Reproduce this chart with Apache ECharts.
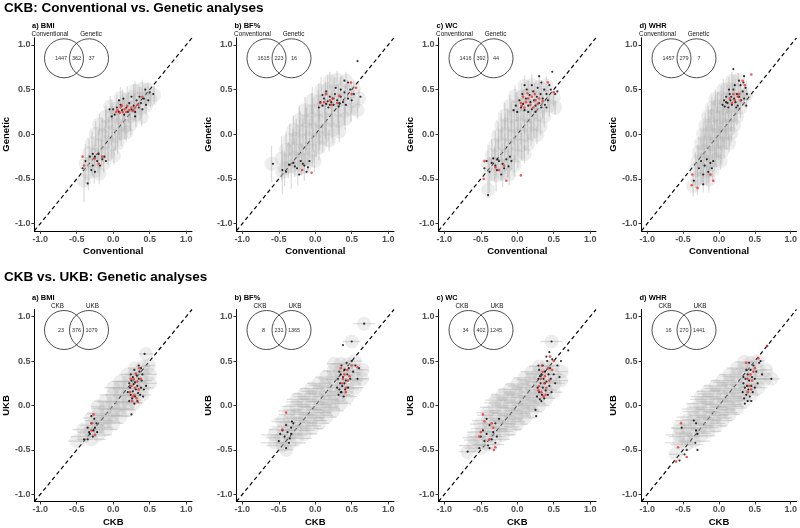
<!DOCTYPE html>
<html><head><meta charset="utf-8">
<script src="https://cdn.jsdelivr.net/npm/echarts@6/dist/echarts.min.js"></script>
<style>html,body{margin:0;padding:0;background:#fff}#c{width:800px;height:528px}</style>
</head><body><div id="c"></div>
<script>
const rowTitles = ['CKB: Conventional vs. Genetic analyses', 'CKB vs. UKB: Genetic analyses'];
const panelLabels = ['a) BMI', 'b) BF%', 'c) WC', 'd) WHR'];
const axisNames = [['Conventional', 'Genetic'], ['CKB', 'UKB']];
const vennSets = [['Conventional', 'Genetic'], ['CKB', 'UKB']];
const vennCounts = [[1447, 362, 37], [1615, 223, 16], [1416, 392, 44], [1457, 279, 7],
                    [23, 376, 1079], [8, 231, 1365], [34, 402, 1245], [16, 270, 1441]];
const tickValues = [-1, -0.5, 0, 0.5, 1];

// grey cloud: x, y, CI half-width (vertical in row 1, horizontal in row 2)
const grey1a = [-0.34,-0.43,0.2, -0.26,-0.41,0.14, -0.19,-0.44,0.12,
 -0.38,-0.33,0.22, -0.29,-0.31,0.15, -0.21,-0.3,0.13, -0.13,-0.33,0.1,
 -0.33,-0.21,0.16, -0.25,-0.23,0.12, -0.16,-0.2,0.14, -0.07,-0.22,0.12, 0.01,-0.24,0.1,
 -0.29,-0.1,0.13, -0.2,-0.12,0.16, -0.11,-0.09,0.18, -0.02,-0.11,0.15, 0.06,-0.1,0.12,
 -0.24,0.01,0.14, -0.15,-0.01,0.2, -0.06,0.02,0.17, 0.03,-0.02,0.16, 0.11,0.01,0.14, 0.18,0.02,0.1,
 -0.19,0.11,0.12, -0.1,0.09,0.18, -0.01,0.12,0.2, 0.08,0.1,0.16, 0.16,0.09,0.15, 0.24,0.11,0.12,
 -0.1,0.2,0.12, -0.02,0.22,0.17, 0.07,0.19,0.2, 0.15,0.21,0.18, 0.23,0.2,0.16, 0.31,0.22,0.14, 0.39,0.19,0.1,
 -0.04,0.31,0.12, 0.05,0.29,0.15, 0.13,0.32,0.18, 0.21,0.3,0.17, 0.29,0.31,0.15, 0.37,0.29,0.14, 0.45,0.32,0.1,
 0.1,0.41,0.12, 0.19,0.39,0.15, 0.28,0.42,0.14, 0.36,0.4,0.13, 0.44,0.41,0.12, 0.51,0.39,0.08,
 0.3,0.49,0.1, 0.4,0.51,0.1, 0.48,0.5,0.08, 0.56,0.44,0.1, -0.4,-0.52,0.24];
const black1a = [0.0,0.28, 0.02,0.22, 0.05,0.3, 0.08,0.25, 0.1,0.33, 0.12,0.27, 0.15,0.22, 0.18,0.3, 0.2,0.25,
 0.22,0.35, 0.25,0.28, 0.28,0.32, 0.3,0.25, 0.32,0.38, 0.35,0.3, 0.38,0.35, 0.4,0.28, 0.42,0.4, 0.45,0.33,
 0.48,0.38, 0.5,0.47, 0.55,0.45, -0.05,0.28, -0.02,0.2, 0.14,0.4, 0.25,0.42, 0.08,0.38, 0.3,0.2, 0.36,0.42, 0.44,0.5,
 -0.38,-0.3, -0.32,-0.25, -0.28,-0.35, -0.25,-0.25, -0.22,-0.3, -0.2,-0.22, -0.15,-0.28, -0.12,-0.25, -0.18,-0.35,
 -0.3,-0.4, -0.25,-0.42, -0.35,-0.55, -0.1,-0.3, -0.42,-0.38, -0.28,-0.22];
const red1a = [0.06,0.27, 0.1,0.3, 0.13,0.25, 0.16,0.28, 0.19,0.32, 0.22,0.27, 0.09,0.24, 0.25,0.3, 0.28,0.26,
 0.12,0.32, 0.18,0.25, 0.3,0.3, 0.4,0.42, 0.34,0.33, 0.04,0.25,
 -0.42,-0.25, -0.4,-0.35, -0.2,-0.33, -0.25,-0.27, -0.15,-0.25];

const grey1b = [-0.42,-0.38,0.2, -0.33,-0.36,0.25, -0.24,-0.39,0.18, -0.15,-0.37,0.15,
 -0.46,-0.27,0.25, -0.37,-0.29,0.2, -0.28,-0.26,0.22, -0.19,-0.28,0.18, -0.1,-0.27,0.15, -0.01,-0.3,0.12,
 -0.4,-0.17,0.2, -0.31,-0.16,0.22, -0.22,-0.18,0.24, -0.13,-0.16,0.2, -0.04,-0.18,0.18, 0.05,-0.15,0.14,
 -0.35,-0.06,0.18, -0.26,-0.05,0.22, -0.17,-0.07,0.25, -0.08,-0.05,0.22, 0.01,-0.06,0.2, 0.1,-0.04,0.16, 0.19,-0.07,0.12,
 -0.3,0.05,0.16, -0.21,0.04,0.22, -0.12,0.06,0.24, -0.03,0.05,0.25, 0.06,0.04,0.22, 0.15,0.06,0.2, 0.24,0.05,0.15, 0.33,0.03,0.12,
 -0.22,0.16,0.16, -0.13,0.15,0.2, -0.04,0.17,0.24, 0.05,0.15,0.22, 0.14,0.17,0.22, 0.23,0.16,0.2, 0.32,0.15,0.16, 0.41,0.17,0.12,
 -0.14,0.27,0.15, -0.05,0.26,0.2, 0.04,0.28,0.22, 0.13,0.26,0.22, 0.22,0.28,0.2, 0.31,0.27,0.18, 0.4,0.26,0.16, 0.49,0.28,0.14, 0.58,0.27,0.1,
 -0.04,0.38,0.15, 0.05,0.37,0.2, 0.14,0.39,0.2, 0.23,0.37,0.18, 0.32,0.38,0.18, 0.41,0.39,0.15, 0.5,0.37,0.14, 0.6,0.4,0.1,
 0.08,0.49,0.15, 0.17,0.5,0.16, 0.26,0.48,0.15, 0.35,0.5,0.14, 0.44,0.49,0.12, 0.53,0.51,0.1,
 0.2,0.6,0.1, 0.3,0.61,0.1, 0.42,0.6,0.1, -0.6,-0.33,0.2, -0.45,-0.42,0.25];
const black1b = [0.07,0.36, 0.1,0.32, 0.12,0.4, 0.15,0.34, 0.18,0.3, 0.2,0.42, 0.22,0.36, 0.25,0.33, 0.27,0.45,
 0.3,0.38, 0.32,0.31, 0.35,0.42, 0.38,0.36, 0.4,0.47, 0.42,0.33, 0.45,0.4, 0.48,0.5, 0.5,0.38, 0.53,0.45,
 0.58,0.82, 0.4,0.6, 0.45,0.58, 0.15,0.48, 0.28,0.52, 0.35,0.5, 0.1,0.44, 0.2,0.33, 0.05,0.3, 0.62,0.42,
 0.24,0.4, 0.33,0.35, 0.17,0.37,
 -0.58,-0.33, -0.45,-0.4, -0.4,-0.42, -0.36,-0.34, -0.3,-0.32, -0.25,-0.38, -0.2,-0.3, -0.15,-0.35,
 -0.12,-0.42, -0.08,-0.3, -0.1,-0.37, -0.22,-0.45, -0.28,-0.36, -0.17,-0.33];
const red1b = [0.15,0.45, 0.2,0.38, 0.25,0.4, 0.07,0.35, 0.3,0.35, 0.33,0.43, 0.49,0.58, 0.56,0.52, 0.5,0.45,
 0.12,0.36, 0.22,0.33, -0.18,-0.4, -0.05,-0.43];

const grey1c = [-0.38,-0.45,0.2, -0.29,-0.46,0.18, -0.2,-0.44,0.15, -0.11,-0.45,0.12,
 -0.4,-0.34,0.22, -0.31,-0.33,0.2, -0.22,-0.35,0.18, -0.13,-0.33,0.16, -0.04,-0.35,0.12,
 -0.35,-0.23,0.18, -0.26,-0.22,0.2, -0.17,-0.24,0.2, -0.08,-0.22,0.17, 0.01,-0.24,0.14, 0.1,-0.22,0.1,
 -0.3,-0.12,0.16, -0.21,-0.11,0.2, -0.12,-0.13,0.22, -0.03,-0.11,0.2, 0.06,-0.12,0.16, 0.15,-0.11,0.12,
 -0.26,-0.01,0.15, -0.17,0.0,0.2, -0.08,-0.02,0.22, 0.01,0.0,0.2, 0.1,-0.01,0.18, 0.19,0.01,0.14, 0.27,-0.01,0.1,
 -0.22,0.1,0.14, -0.13,0.11,0.18, -0.04,0.09,0.2, 0.05,0.11,0.22, 0.14,0.1,0.18, 0.23,0.11,0.15, 0.32,0.09,0.1,
 -0.17,0.21,0.14, -0.08,0.2,0.17, 0.01,0.22,0.2, 0.1,0.21,0.2, 0.19,0.2,0.18, 0.28,0.22,0.15, 0.37,0.2,0.12,
 -0.1,0.32,0.12, -0.01,0.31,0.16, 0.08,0.33,0.18, 0.17,0.31,0.18, 0.26,0.33,0.16, 0.35,0.31,0.14, 0.44,0.32,0.12,
 -0.03,0.43,0.12, 0.06,0.42,0.15, 0.15,0.44,0.16, 0.24,0.42,0.15, 0.33,0.44,0.14, 0.42,0.43,0.12, 0.5,0.41,0.1,
 0.1,0.54,0.12, 0.2,0.55,0.12, 0.3,0.53,0.12, 0.4,0.55,0.1, -0.4,-0.62,0.1, 0.52,0.3,0.08];
const black1c = [-0.05,0.27, -0.02,0.32, 0.0,0.25, 0.03,0.38, 0.05,0.3, 0.07,0.45, 0.08,0.34, 0.1,0.27, 0.12,0.4,
 0.13,0.5, 0.15,0.32, 0.17,0.44, 0.18,0.36, 0.2,0.28, 0.22,0.48, 0.23,0.38, 0.25,0.32, 0.27,0.42, 0.28,0.52,
 0.3,0.35, 0.32,0.45, 0.33,0.3, 0.35,0.4, 0.37,0.5, 0.38,0.33, 0.4,0.45, 0.42,0.38, 0.44,0.55, 0.46,0.5,
 0.48,0.7, 0.3,0.65, 0.33,0.58, 0.2,0.55, 0.1,0.55, 0.15,0.25, 0.25,0.25, 0.4,0.3, 0.52,0.45, 0.55,0.48,
 -0.45,-0.38, -0.42,-0.3, -0.38,-0.42, -0.33,-0.27, -0.3,-0.35, -0.28,-0.4, -0.25,-0.3, -0.22,-0.45, -0.2,-0.33,
 -0.18,-0.38, -0.15,-0.28, -0.12,-0.36, -0.1,-0.25, -0.08,-0.3, -0.4,-0.68, -0.35,-0.32, -0.27,-0.28];
const red1c = [0.05,0.35, 0.08,0.42, 0.1,0.3, 0.12,0.36, 0.15,0.4, 0.18,0.33, 0.2,0.42, 0.22,0.3, 0.25,0.38,
 0.28,0.34, 0.3,0.4, 0.14,0.46, 0.35,0.37, 0.42,0.58, 0.5,0.47, 0.06,0.32, 0.24,0.45,
 -0.45,-0.3, -0.46,-0.5, -0.3,-0.37, -0.25,-0.4, -0.18,-0.35, -0.15,-0.52, 0.05,-0.46];

const grey1d = [-0.3,-0.5,0.18, -0.22,-0.49,0.16, -0.14,-0.51,0.14,
 -0.33,-0.4,0.2, -0.25,-0.39,0.18, -0.17,-0.41,0.16, -0.09,-0.4,0.12,
 -0.3,-0.3,0.18, -0.22,-0.29,0.2, -0.14,-0.31,0.18, -0.06,-0.29,0.14, 0.02,-0.3,0.1,
 -0.28,-0.2,0.16, -0.2,-0.19,0.2, -0.12,-0.21,0.2, -0.04,-0.19,0.18, 0.04,-0.2,0.14,
 -0.25,-0.1,0.15, -0.17,-0.09,0.2, -0.09,-0.11,0.22, -0.01,-0.09,0.2, 0.07,-0.1,0.15, 0.14,-0.1,0.1,
 -0.22,0.0,0.14, -0.14,0.01,0.2, -0.06,-0.01,0.22, 0.02,0.01,0.2, 0.1,0.0,0.16, 0.17,0.01,0.1,
 -0.19,0.1,0.14, -0.11,0.11,0.18, -0.03,0.09,0.22, 0.05,0.11,0.2, 0.13,0.1,0.16, 0.21,0.1,0.1,
 -0.15,0.2,0.12, -0.07,0.21,0.18, 0.01,0.19,0.2, 0.09,0.21,0.2, 0.17,0.2,0.16, 0.25,0.2,0.1,
 -0.1,0.3,0.12, -0.02,0.31,0.16, 0.06,0.29,0.18, 0.14,0.31,0.18, 0.22,0.3,0.15, 0.3,0.3,0.12,
 -0.05,0.4,0.1, 0.03,0.41,0.14, 0.11,0.39,0.16, 0.19,0.41,0.15, 0.27,0.4,0.13, 0.35,0.41,0.1,
 0.06,0.5,0.12, 0.14,0.51,0.13, 0.22,0.5,0.12, 0.3,0.49,0.1, 0.18,0.6,0.1, 0.27,0.61,0.08,
 0.38,0.45,0.15, -0.36,-0.58,0.12];
const black1d = [0.05,0.33, 0.07,0.38, 0.08,0.31, 0.1,0.42, 0.12,0.35, 0.13,0.3, 0.15,0.45, 0.16,0.38, 0.18,0.33,
 0.2,0.5, 0.21,0.4, 0.23,0.36, 0.25,0.45, 0.26,0.32, 0.28,0.42, 0.3,0.55, 0.31,0.38, 0.33,0.48, 0.35,0.4,
 0.37,0.52, 0.38,0.32, 0.2,0.73, 0.35,0.65, 0.28,0.6, 0.34,0.58, 0.1,0.36, 0.17,0.42, 0.24,0.3, 0.14,0.5,
 0.22,0.55, 0.39,0.45,
 -0.25,-0.3, -0.2,-0.35, -0.17,-0.28, -0.12,-0.32, -0.1,-0.38, -0.15,-0.42, -0.22,-0.45, -0.28,-0.38,
 -0.08,-0.3, -0.35,-0.52, -0.22,-0.56];
const red1d = [0.45,0.67, 0.33,0.6, 0.36,0.55, 0.2,0.45, 0.26,0.42, 0.3,0.38, 0.15,0.4, 0.22,0.38, 0.28,0.45, 0.18,0.35,
 -0.37,-0.45, -0.38,-0.57, -0.3,-0.6, -0.12,-0.45, -0.08,-0.52];

const grey2a = [-0.4,-0.35,0.18, -0.41,-0.27,0.15,
 -0.3,-0.38,0.2, -0.31,-0.3,0.18, -0.29,-0.22,0.16, -0.3,-0.14,0.12,
 -0.2,-0.33,0.18, -0.21,-0.25,0.2, -0.19,-0.17,0.2, -0.2,-0.09,0.16, -0.21,-0.01,0.1,
 -0.1,-0.27,0.16, -0.11,-0.19,0.2, -0.09,-0.11,0.22, -0.1,-0.03,0.2, -0.11,0.05,0.15,
 0.0,-0.2,0.14, -0.01,-0.12,0.2, 0.01,-0.04,0.22, 0.0,0.04,0.22, -0.01,0.12,0.18, 0.0,0.2,0.12,
 0.1,-0.12,0.14, 0.09,-0.04,0.2, 0.11,0.04,0.22, 0.1,0.12,0.2, 0.09,0.2,0.16, 0.1,0.27,0.12,
 0.2,-0.05,0.12, 0.21,0.03,0.18, 0.19,0.11,0.2, 0.2,0.19,0.2, 0.21,0.27,0.16, 0.2,0.35,0.12,
 0.3,0.03,0.12, 0.29,0.11,0.16, 0.31,0.19,0.18, 0.3,0.27,0.16, 0.29,0.35,0.14, 0.3,0.42,0.1,
 0.4,0.12,0.12, 0.41,0.2,0.14, 0.39,0.28,0.14, 0.4,0.36,0.12, 0.41,0.44,0.1,
 0.5,0.25,0.1, 0.5,0.35,0.1, 0.49,0.45,0.08, 0.45,0.58,0.1, -0.5,-0.4,0.12];
const black2a = [0.22,0.05, 0.24,0.12, 0.23,0.2, 0.25,0.28, 0.24,0.35, 0.26,0.08, 0.27,0.16, 0.28,0.24, 0.27,0.32,
 0.29,0.4, 0.3,0.1, 0.31,0.18, 0.3,0.26, 0.32,0.34, 0.33,0.05, 0.34,0.14, 0.33,0.22, 0.35,0.3, 0.36,0.38,
 0.37,0.12, 0.38,0.2, 0.39,0.28, 0.4,0.35, 0.41,0.1, 0.42,0.18, 0.25,-0.1, 0.43,0.58, 0.45,0.22, 0.2,0.15,
 0.22,0.25, 0.38,0.42, 0.29,0.02, 0.35,0.45,
 -0.35,-0.25, -0.33,-0.3, -0.3,-0.12, -0.3,-0.2, -0.28,-0.35, -0.26,-0.15, -0.25,-0.25, -0.23,-0.2,
 -0.22,-0.3, -0.4,-0.38, -0.35,-0.38, -0.27,-0.28, -0.32,-0.32];
const red2a = [0.23,0.15, 0.25,0.22, 0.26,0.05, 0.28,0.3, 0.29,0.12, 0.3,0.2, 0.31,0.36, 0.32,0.08, 0.33,0.27,
 0.35,0.18, 0.36,0.42, 0.24,0.3, 0.27,0.1, 0.34,0.04, 0.38,0.3,
 -0.3,-0.28, -0.27,-0.1, -0.25,-0.33, -0.29,-0.2];

const grey2b = [-0.55,-0.42,0.2, -0.56,-0.33,0.18,
 -0.45,-0.45,0.22, -0.46,-0.36,0.22, -0.44,-0.27,0.2, -0.45,-0.18,0.15,
 -0.35,-0.42,0.22, -0.36,-0.33,0.25, -0.34,-0.24,0.25, -0.35,-0.15,0.22, -0.36,-0.06,0.15,
 -0.25,-0.37,0.2, -0.26,-0.28,0.25, -0.24,-0.19,0.26, -0.25,-0.1,0.25, -0.26,-0.01,0.2, -0.25,0.07,0.14,
 -0.15,-0.32,0.18, -0.16,-0.23,0.24, -0.14,-0.14,0.26, -0.15,-0.05,0.26, -0.16,0.04,0.24, -0.15,0.13,0.16,
 -0.05,-0.26,0.16, -0.06,-0.17,0.22, -0.04,-0.08,0.26, -0.05,0.01,0.26, -0.06,0.1,0.24, -0.05,0.19,0.16,
 0.05,-0.2,0.14, 0.04,-0.11,0.2, 0.06,-0.02,0.25, 0.05,0.07,0.26, 0.04,0.16,0.24, 0.05,0.25,0.16,
 0.15,-0.13,0.14, 0.14,-0.04,0.2, 0.16,0.05,0.24, 0.15,0.14,0.25, 0.14,0.23,0.22, 0.15,0.32,0.15,
 0.25,-0.06,0.14, 0.24,0.03,0.2, 0.26,0.12,0.22, 0.25,0.21,0.22, 0.24,0.3,0.2, 0.25,0.39,0.15, 0.26,0.47,0.1,
 0.35,0.02,0.14, 0.34,0.11,0.18, 0.36,0.2,0.2, 0.35,0.29,0.2, 0.34,0.38,0.18, 0.35,0.47,0.14,
 0.45,0.1,0.12, 0.44,0.19,0.16, 0.46,0.28,0.18, 0.45,0.37,0.16, 0.44,0.46,0.14,
 0.55,0.2,0.12, 0.56,0.3,0.14, 0.55,0.4,0.12, 0.54,0.5,0.1, 0.64,0.3,0.1, 0.65,0.4,0.08,
 0.67,0.92,0.15, 0.5,0.72,0.12, -0.4,-0.5,0.1];
const black2b = [0.3,0.2, 0.31,0.3, 0.32,0.12, 0.33,0.38, 0.34,0.25, 0.35,0.15, 0.36,0.45, 0.37,0.22, 0.38,0.32,
 0.39,0.1, 0.4,0.4, 0.41,0.18, 0.42,0.28, 0.43,0.48, 0.44,0.35, 0.45,0.2, 0.46,0.42, 0.48,0.3, 0.5,0.5,
 0.52,0.38, 0.55,0.45, 0.58,0.3, 0.6,0.42, 0.67,0.92, 0.5,0.72, 0.38,0.68, 0.36,0.15, 0.33,0.18, 0.4,0.25, 0.35,0.35,
 -0.5,-0.4, -0.48,-0.32, -0.45,-0.28, -0.42,-0.35, -0.4,-0.22, -0.38,-0.3, -0.35,-0.37, -0.33,-0.25,
 -0.32,-0.18, -0.3,-0.2, -0.36,-0.42, -0.4,-0.48, -0.33,-0.32];
const red2b = [0.35,0.42, 0.38,0.3, 0.4,0.35, 0.42,0.2, 0.44,0.4, 0.45,0.28, 0.37,0.25, 0.5,0.45, 0.58,0.43,
 0.42,0.15, 0.47,0.33, -0.4,-0.08, -0.45,-0.27];

const grey2c = [-0.6,-0.45,0.2, -0.6,-0.36,0.15,
 -0.5,-0.48,0.22, -0.51,-0.39,0.22, -0.49,-0.3,0.2, -0.5,-0.21,0.15,
 -0.4,-0.44,0.22, -0.41,-0.35,0.25, -0.39,-0.26,0.25, -0.4,-0.17,0.22, -0.41,-0.08,0.15,
 -0.3,-0.38,0.2, -0.31,-0.29,0.25, -0.29,-0.2,0.26, -0.3,-0.11,0.25, -0.31,-0.02,0.2, -0.3,0.06,0.14,
 -0.2,-0.33,0.18, -0.21,-0.24,0.24, -0.19,-0.15,0.26, -0.2,-0.06,0.26, -0.21,0.03,0.24, -0.2,0.12,0.16,
 -0.1,-0.27,0.16, -0.11,-0.18,0.22, -0.09,-0.09,0.26, -0.1,0.0,0.26, -0.11,0.09,0.24, -0.1,0.18,0.16,
 0.0,-0.21,0.14, -0.01,-0.12,0.2, 0.01,-0.03,0.25, 0.0,0.06,0.26, -0.01,0.15,0.24, 0.0,0.24,0.16,
 0.1,-0.14,0.14, 0.09,-0.05,0.2, 0.11,0.04,0.24, 0.1,0.13,0.25, 0.09,0.22,0.22, 0.1,0.31,0.15,
 0.2,-0.07,0.14, 0.19,0.02,0.2, 0.21,0.11,0.22, 0.2,0.2,0.22, 0.19,0.29,0.2, 0.2,0.38,0.15,
 0.3,0.0,0.14, 0.29,0.09,0.18, 0.31,0.18,0.2, 0.3,0.27,0.2, 0.29,0.36,0.18, 0.3,0.44,0.14,
 0.4,0.08,0.12, 0.39,0.17,0.16, 0.41,0.26,0.18, 0.4,0.35,0.16, 0.39,0.44,0.14,
 0.5,0.15,0.12, 0.51,0.25,0.14, 0.5,0.35,0.12, 0.49,0.45,0.1, 0.6,0.28,0.1, 0.61,0.38,0.08,
 0.47,0.72,0.15, -0.68,-0.52,0.12];
const black2c = [0.27,0.1, 0.28,0.2, 0.29,0.3, 0.3,0.15, 0.3,0.4, 0.31,0.07, 0.32,0.25, 0.33,0.35, 0.34,0.12,
 0.35,0.45, 0.35,0.2, 0.36,0.3, 0.37,0.08, 0.38,0.38, 0.39,0.17, 0.4,0.27, 0.41,0.5, 0.42,0.12, 0.43,0.35,
 0.44,0.22, 0.45,0.42, 0.46,0.3, 0.47,0.15, 0.48,0.52, 0.5,0.35, 0.52,0.25, 0.55,0.45, 0.58,0.32, 0.6,0.5,
 0.47,0.72, 0.7,0.62, 0.25,-0.05, 0.26,-0.12, 0.29,0.45, 0.33,0.05, 0.4,0.55, 0.44,0.6, 0.38,0.25, 0.31,0.33,
 -0.5,-0.35, -0.47,-0.28, -0.45,-0.4, -0.42,-0.32, -0.4,-0.45, -0.38,-0.22, -0.35,-0.38, -0.33,-0.3,
 -0.3,-0.42, -0.28,-0.35, -0.25,-0.15, -0.3,-0.2, -0.52,-0.48, -0.38,-0.48, -0.68,-0.52, -0.42,-0.15];
const red2c = [0.3,0.22, 0.32,0.3, 0.33,0.15, 0.35,0.38, 0.36,0.1, 0.37,0.25, 0.38,0.33, 0.4,0.2, 0.42,0.42,
 0.44,0.28, 0.45,0.55, 0.48,0.4, 0.5,0.5, 0.34,0.45, 0.39,0.12, 0.29,0.17,
 -0.47,-0.1, -0.45,-0.18, -0.5,-0.3, -0.52,-0.35, -0.35,-0.2, -0.33,-0.25, -0.3,-0.47, -0.32,-0.5, -0.38,-0.38];

const grey2d = [-0.55,-0.42,0.2, -0.56,-0.33,0.18, -0.55,-0.25,0.12,
 -0.45,-0.44,0.22, -0.46,-0.35,0.24, -0.44,-0.26,0.22, -0.45,-0.17,0.16,
 -0.35,-0.4,0.22, -0.36,-0.31,0.25, -0.34,-0.22,0.26, -0.35,-0.13,0.24, -0.36,-0.04,0.16,
 -0.25,-0.34,0.2, -0.26,-0.25,0.26, -0.24,-0.16,0.27, -0.25,-0.07,0.26, -0.26,0.02,0.2, -0.25,0.1,0.14,
 -0.15,-0.29,0.18, -0.16,-0.2,0.25, -0.14,-0.11,0.27, -0.15,-0.02,0.27, -0.16,0.07,0.24, -0.15,0.16,0.16,
 -0.05,-0.23,0.16, -0.06,-0.14,0.24, -0.04,-0.05,0.27, -0.05,0.04,0.27, -0.06,0.13,0.24, -0.05,0.22,0.16,
 0.05,-0.17,0.14, 0.04,-0.08,0.22, 0.06,0.01,0.26, 0.05,0.1,0.27, 0.04,0.19,0.24, 0.05,0.28,0.16,
 0.15,-0.1,0.14, 0.14,-0.01,0.2, 0.16,0.08,0.24, 0.15,0.17,0.26, 0.14,0.26,0.22, 0.15,0.35,0.15,
 0.25,-0.03,0.14, 0.24,0.06,0.2, 0.26,0.15,0.22, 0.25,0.24,0.22, 0.24,0.33,0.2, 0.25,0.42,0.14,
 0.35,0.05,0.12, 0.34,0.14,0.18, 0.36,0.23,0.2, 0.35,0.32,0.2, 0.34,0.41,0.16, 0.35,0.49,0.12,
 0.45,0.12,0.12, 0.44,0.21,0.16, 0.46,0.3,0.18, 0.45,0.39,0.16, 0.44,0.48,0.12,
 0.55,0.2,0.12, 0.56,0.3,0.14, 0.55,0.4,0.12, 0.54,0.5,0.1, 0.65,0.3,0.1, 0.66,0.4,0.08,
 0.73,0.3,0.12, -0.6,-0.55,0.1];
const black2d = [0.33,0.15, 0.34,0.25, 0.35,0.08, 0.36,0.2, 0.37,0.3, 0.38,0.12, 0.39,0.22, 0.4,0.05, 0.4,0.35,
 0.41,0.18, 0.42,0.28, 0.43,0.1, 0.44,0.4, 0.45,0.22, 0.46,0.32, 0.47,0.15, 0.48,0.45, 0.5,0.3, 0.52,0.38,
 0.54,0.25, 0.56,0.48, 0.58,0.5, 0.6,0.35, 0.67,0.67, 0.73,0.3, 0.36,0.02, 0.38,0.4, 0.42,0.48, 0.34,0.32,
 0.45,0.05, 0.5,0.2,
 -0.52,-0.25, -0.35,-0.17, -0.32,-0.28, -0.3,-0.32, -0.33,-0.42, -0.3,-0.5, -0.45,-0.5, -0.48,-0.55,
 -0.55,-0.62, -0.32,-0.2];
const red2d = [0.38,0.48, 0.4,0.3, 0.42,0.22, 0.44,0.35, 0.46,0.28, 0.45,0.18, 0.5,0.42, 0.55,0.53, 0.67,0.67,
 0.4,0.15, 0.48,0.38, -0.53,-0.2, -0.57,-0.47, -0.6,-0.63, -0.45,-0.58];

const greyAll = [grey1a, grey1b, grey1c, grey1d, grey2a, grey2b, grey2c, grey2d];
const blackAll = [black1a, black1b, black1c, black1d, black2a, black2b, black2c, black2d];
const redAll = [red1a, red1b, red1c, red1d, red2a, red2b, red2c, red2d];

function group(arr, n) { const out = []; for (let i = 0; i + n <= arr.length; i += n) out.push(arr.slice(i, i + n)); return out; }

const LIM = 1.08;
const FONT = 'Liberation Sans, Arial, sans-serif';
const lefts = [34, 236.5, 438.5, 641.5];
const widths = [158, 157.5, 157.5, 157];
const tops = [37.8, 309.5];
const H = 193;

const grids = [], xAxes = [], yAxes = [], series = [], titles = [], graphics = [];
titles.push({ text: rowTitles[0], left: 4, top: 1.5, padding: 0, textStyle: { fontSize: 13.5, fontWeight: 'bold', color: '#000', fontFamily: FONT } });
titles.push({ text: rowTitles[1], left: 4, top: 270, padding: 0, textStyle: { fontSize: 13.5, fontWeight: 'bold', color: '#000', fontFamily: FONT } });

for (let r = 0; r < 2; r++) {
  for (let c = 0; c < 4; c++) {
    const i = r * 4 + c;
    const L = lefts[c], T = tops[r];
    grids.push({ left: L, top: T, width: widths[c], height: H });
    const axCommon = {
      gridIndex: i, type: 'value', min: -LIM, max: LIM,
      nameLocation: 'middle',
      nameTextStyle: { fontWeight: 'bold', fontSize: 9.5, color: '#000', fontFamily: FONT },
      axisLine: { onZero: false, lineStyle: { color: '#000', width: 1 } },
      axisTick: { show: true, length: 3, customValues: tickValues, lineStyle: { color: '#333', width: 1 } },
      axisLabel: { customValues: tickValues, formatter: v => v.toFixed(1), fontSize: 9, fontWeight: 'bold', color: '#4d4d4d', fontFamily: FONT, margin: 4 },
      splitLine: { show: false }
    };
    xAxes.push(Object.assign({}, axCommon, { name: axisNames[r][0], nameGap: 15.5 }));
    yAxes.push(Object.assign({}, axCommon, { name: axisNames[r][1], nameGap: 19 }));

    const vertical = r === 0;
    series.push({ type: 'line', xAxisIndex: i, yAxisIndex: i, silent: true, symbol: 'none', z: 1,
      lineStyle: { color: '#000', width: 1.2, type: [4, 3] }, data: [[-LIM, -LIM], [LIM, LIM]] });
    series.push({
      type: 'custom', xAxisIndex: i, yAxisIndex: i, silent: true, clip: true, z: 2,
      data: group(greyAll[i], 3), encode: { x: 0, y: 1 },
      renderItem: (params, api) => {
        const x = api.value(0), y = api.value(1), e = api.value(2);
        const a = vertical ? api.coord([x, y - e]) : api.coord([x - e, y]);
        const b = vertical ? api.coord([x, y + e]) : api.coord([x + e, y]);
        return { type: 'line', shape: { x1: a[0], y1: a[1], x2: b[0], y2: b[1] }, style: { stroke: 'rgba(190,190,190,0.5)', lineWidth: 1.3 } };
      }
    });
    series.push({ type: 'scatter', xAxisIndex: i, yAxisIndex: i, silent: true, symbolSize: 14, z: 3,
      itemStyle: { color: 'rgba(170,170,170,0.26)', borderWidth: 0 }, data: group(greyAll[i], 3).map(d => [d[0], d[1]]) });
    series.push({ type: 'scatter', xAxisIndex: i, yAxisIndex: i, silent: true, symbolSize: 2.2, z: 4,
      itemStyle: { color: '#000' }, data: group(blackAll[i], 2) });
    series.push({ type: 'scatter', xAxisIndex: i, yAxisIndex: i, silent: true, symbolSize: 2.6, z: 5,
      itemStyle: { color: '#f03030' }, data: group(redAll[i], 2) });

    titles.push({ text: panelLabels[c], left: L - 2, top: T - 16, padding: 0,
      textStyle: { fontSize: 7.5, fontWeight: 'bold', color: '#000', fontFamily: FONT } });

    // Venn diagram
    const cx1 = L + 30, cx2 = L + 55, cy = T + 20.5, rad = 19.5;
    const cnt = vennCounts[i];
    graphics.push({ type: 'circle', silent: true, shape: { cx: cx1, cy: cy, r: rad }, style: { fill: 'none', stroke: '#222', lineWidth: 0.8 } });
    graphics.push({ type: 'circle', silent: true, shape: { cx: cx2, cy: cy, r: rad }, style: { fill: 'none', stroke: '#222', lineWidth: 0.8 } });
    const lab1dx = r === 0 ? -14 : -6.5, lab2dx = r === 0 ? 2 : 3.5;
    graphics.push({ type: 'text', silent: true, style: { text: vennSets[r][0], x: cx1 + lab1dx, y: T - 3.3, align: 'center', verticalAlign: 'middle', fontSize: 6.3, fill: '#111', fontFamily: FONT } });
    graphics.push({ type: 'text', silent: true, style: { text: vennSets[r][1], x: cx2 + lab2dx, y: T - 3.3, align: 'center', verticalAlign: 'middle', fontSize: 6.3, fill: '#111', fontFamily: FONT } });
    const nums = [[cx1 - 3, cnt[0]], [(cx1 + cx2) / 2, cnt[1]], [cx2 + 2.5, cnt[2]]];
    nums.forEach(([x, v]) => graphics.push({ type: 'text', silent: true, style: { text: String(v), x: x, y: cy + 0.5, align: 'center', verticalAlign: 'middle', fontSize: 5.5, fill: '#333', fontFamily: FONT } }));
  }
}

const chart = echarts.init(document.getElementById('c'), null, { renderer: 'canvas' });
chart.setOption({
  backgroundColor: '#fff', animation: false,
  textStyle: { fontFamily: FONT },
  title: titles, grid: grids, xAxis: xAxes, yAxis: yAxes, series: series, graphic: graphics
});
</script></body></html>
